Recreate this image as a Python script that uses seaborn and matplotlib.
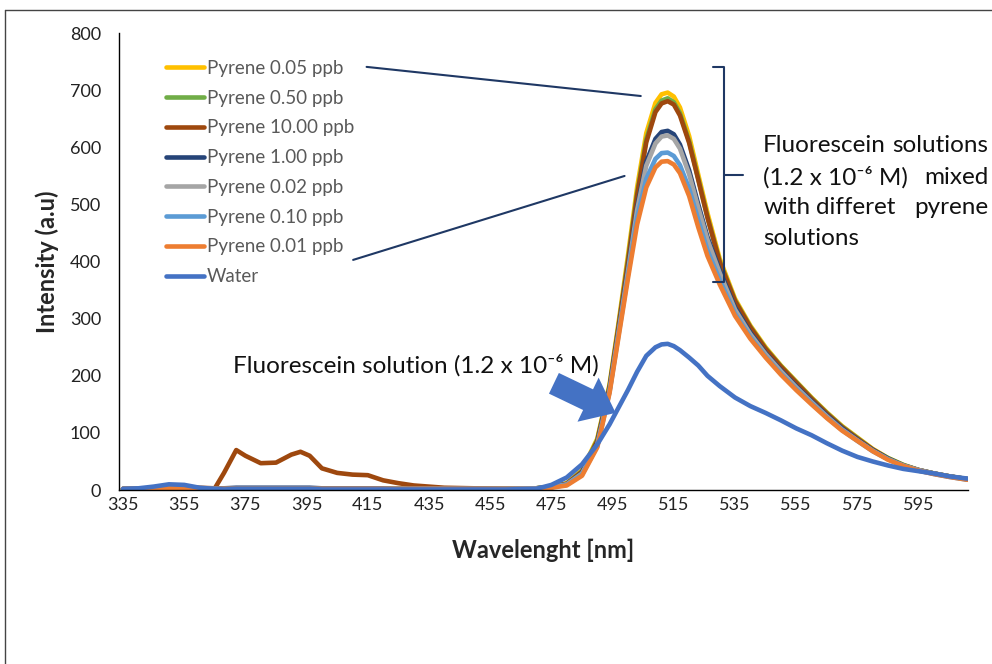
import matplotlib
matplotlib.use("Agg")
import matplotlib.pyplot as plt
import seaborn as sns
from matplotlib.lines import Line2D

# emission spectra (nm / a.u.)
wavelength = [335, 340, 345, 350, 355, 360, 365, 368, 372, 375,
              380, 385, 390, 393, 396, 400, 405, 410, 415, 420,
              425, 430, 435, 440, 450, 460, 470, 475, 480, 485,
              490, 494, 497, 500, 503, 506, 509, 511, 513, 515,
              517, 520, 523, 526, 530, 535, 540, 545, 550, 555,
              560, 565, 570, 575, 580, 585, 590, 595, 600, 605, 611]

pyrene_005 = [2, 2, 3, 4, 4, 3, 2, 2, 2, 2, 2, 2, 2, 2, 2, 2, 2, 2, 2, 2,
              2, 2, 2, 2, 2, 2, 3, 6,
              12, 35, 90, 185, 295, 410, 530, 625, 678, 693, 696, 689, 670, 620, 552, 485,
              405, 335, 288, 250, 218, 190, 162, 136, 112, 92, 72, 56, 44, 35, 29, 24, 19]
pyrene_050 = [2, 2, 3, 4, 4, 3, 2, 2, 2, 2, 2, 2, 2, 2, 2, 2, 2, 2, 2, 2,
              2, 2, 2, 2, 2, 2, 3, 6,
              11, 33, 88, 182, 290, 402, 520, 614, 667, 682, 686, 679, 660, 611, 545, 478,
              400, 332, 286, 248, 217, 189, 161, 135, 111, 91, 71, 56, 44, 35, 29, 24, 19]
pyrene_1000 = [2, 2, 3, 4, 5, 4, 3, 30, 70, 60, 47, 48, 62, 67, 60, 38, 30, 27, 26, 17,
               12, 8, 6, 4, 3, 2, 3, 6,
               11, 32, 86, 180, 288, 398, 516, 609, 662, 677, 681, 675, 656, 608, 543, 477,
               399, 331, 285, 247, 216, 188, 160, 134, 110, 90, 71, 55, 43, 35, 29, 24, 19]
pyrene_100 = [2, 2, 3, 3, 4, 3, 3, 3, 4, 4, 4, 4, 4, 4, 4, 3, 3, 3, 3, 3,
              2, 2, 2, 2, 2, 2, 3, 5,
              10, 30, 82, 176, 280, 385, 495, 575, 615, 627, 629, 623, 605, 560, 500, 443,
              385, 320, 276, 240, 210, 182, 156, 131, 108, 88, 70, 55, 43, 35, 29, 24, 19]
pyrene_002 = [2, 2, 3, 3, 3, 3, 2, 2, 2, 2, 2, 2, 2, 2, 2, 2, 2, 2, 2, 2,
              2, 2, 2, 2, 2, 2, 3, 5,
              10, 29, 80, 174, 278, 382, 490, 568, 607, 619, 621, 615, 598, 553, 494, 438,
              380, 316, 273, 238, 208, 180, 154, 129, 106, 87, 69, 54, 43, 35, 29, 24, 19]
pyrene_010 = [2, 2, 3, 3, 3, 3, 2, 2, 2, 2, 2, 2, 2, 2, 2, 2, 2, 2, 2, 2,
              2, 2, 2, 2, 2, 2, 3, 5,
              9, 27, 77, 172, 274, 376, 477, 545, 580, 590, 591, 585, 569, 528, 473, 420,
              368, 309, 268, 234, 204, 177, 152, 127, 105, 86, 68, 54, 42, 34, 28, 23, 18]
pyrene_001 = [2, 2, 3, 3, 3, 3, 2, 2, 2, 2, 2, 2, 2, 2, 2, 2, 2, 2, 2, 2,
              2, 2, 2, 2, 2, 2, 2, 4,
              8, 25, 75, 170, 270, 370, 465, 530, 565, 575, 576, 570, 555, 515, 460, 410,
              360, 305, 265, 232, 202, 175, 150, 126, 104, 86, 68, 53, 42, 34, 28, 23, 18]
water = [2, 3, 6, 10, 9, 4, 2, 1, 2, 2, 2, 2, 2, 2, 2, 1, 1, 1, 1, 1,
         1, 1, 1, 1, 1, 1, 2, 9,
         22, 45, 80, 115, 145, 175, 207, 235, 250, 255, 256, 252, 245, 232, 218, 200,
         182, 162, 147, 135, 122, 108, 96, 82, 69, 58, 50, 43, 37, 33, 29, 24, 20]

series = [pyrene_005, pyrene_050, pyrene_1000, pyrene_100,
          pyrene_002, pyrene_010, pyrene_001, water]
labels = ['Pyrene 0.05 ppb', 'Pyrene 0.50 ppb', 'Pyrene 10.00 ppb', 'Pyrene 1.00 ppb',
          'Pyrene 0.02 ppb', 'Pyrene 0.10 ppb', 'Pyrene 0.01 ppb', 'Water']
colors = ['#FFC000', '#70AD47', '#9E480E', '#264478',
          '#A5A5A5', '#5B9BD5', '#ED7D31', '#4472C4']

navy = '#1F3864'


def make_plot():
    sns.set_theme(style="white")
    plt.rcParams['font.family'] = ['Lato', 'DejaVu Sans']

    fig = plt.figure(figsize=(9.92, 6.64), dpi=100)
    ax = fig.add_axes([0.120, 0.262, 0.856, 0.688])

    for vals, lab, col in zip(series, labels, colors):
        sns.lineplot(x=wavelength, y=vals, ax=ax, color=col, linewidth=3.3, label=lab)

    ax.set_xlim(333.7, 611.2)
    ax.set_ylim(0, 800)
    ax.set_xticks(range(335, 600, 20))
    ax.set_yticks(range(0, 801, 100))
    ax.tick_params(direction='in', length=5, width=1, colors='black',
                   labelsize=13, labelcolor='#222222')
    ax.tick_params(axis='y', pad=13)
    ax.tick_params(axis='x', pad=5)
    for side in ['top', 'right']:
        ax.spines[side].set_visible(False)
    for side in ['left', 'bottom']:
        ax.spines[side].set_color('black')
        ax.spines[side].set_linewidth(1)

    ax.set_xlabel('Wavelenght [nm]', fontsize=17, fontweight='bold', labelpad=18.5)
    ax.set_ylabel('Intensity (a.u)', fontsize=17, fontweight='bold', labelpad=8)

    leg = ax.legend(loc='upper left', bbox_to_anchor=(0.047, 0.958), frameon=False,
                    fontsize=13.5, handlelength=2.0, handletextpad=0.15,
                    labelspacing=0.68, borderaxespad=0)
    for t in leg.get_texts():
        t.set_color('#595959')

    # leader lines from the legend towards the peaks
    ax.plot([414.6, 504.2], [741, 690], color=navy, lw=1.5)
    ax.plot([410.2, 498.9], [403, 550], color=navy, lw=1.5)

    # curly bracket
    ax.plot([527.8, 531.4, 531.4, 527.8], [740, 740, 364, 364], color=navy, lw=1.5)
    ax.plot([531.4, 537.6], [551, 551], color=navy, lw=1.5)

    txt = dict(fontsize=17.5, color='#111111', va='center')
    ax.text(544.2, 604, 'Fluorescein', ha='left', **txt)
    ax.text(617.7, 604, 'solutions', ha='right', **txt)
    ax.text(544.2, 548, '(1.2 x 10\u207b\u2076 M)', ha='left', **txt)
    ax.text(617.7, 548, 'mixed', ha='right', **txt)
    ax.text(544.2, 494, 'with', ha='left', **txt)
    ax.text(574.5, 494, 'differet', ha='center', **txt)
    ax.text(617.7, 494, 'pyrene', ha='right', **txt)
    ax.text(544.2, 441, 'solutions', ha='left', **txt)

    ax.text(371, 219, 'Fluorescein solution (1.2 x 10\u207b\u2076 M)', ha='left', **txt)
    ax.annotate('', xy=(496.8, 133), xytext=(475.0, 189),
                arrowprops=dict(arrowstyle='simple,head_width=1.6,head_length=1.0,tail_width=0.75',
                                mutation_scale=22, color='#4472C4', lw=0))

    # thin page border of the original screenshot
    fig.add_artist(Line2D([0.005, 1.0], [0.985, 0.985], color='#444444', lw=1))
    fig.add_artist(Line2D([0.005, 0.005], [0.0, 0.985], color='#444444', lw=1))

    fig.savefig('out.png', dpi=100)
    plt.close(fig)


if __name__ == "__main__":
    make_plot()
